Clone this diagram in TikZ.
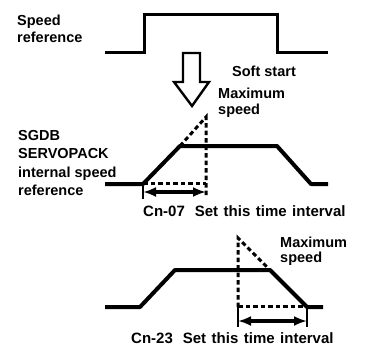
\documentclass[tikz,border=0pt]{standalone}
\usepackage{fontspec}
\setmainfont{Liberation Sans}
\usetikzlibrary{arrows.meta}
\begin{document}
\begin{tikzpicture}[x=1pt,y=-1pt,
  lbl/.style={inner sep=0pt,anchor=base west,font=\fontsize{14.5}{17}\bfseries},
  cnl/.style={inner sep=0pt,anchor=base west,font=\fontsize{15}{17}\bfseries},
  pulse/.style={line width=3pt,line join=miter},
  wave/.style={line width=4pt,line join=round},
  dsh/.style={line width=3pt,dash pattern=on 4.5pt off 3pt},
  dim/.style={line width=3.2pt,{Latex[length=13pt,width=10pt]}-{Latex[length=13pt,width=10pt]}},
  tick/.style={line width=2.2pt}]
\useasboundingbox (0,0) rectangle (369,345);
% labels
\node[lbl] (sp1) at (17,26) {Speed};
\node[lbl] (sp2) at (17,43) {reference};
\node[lbl] (sg1) at (18,140) {SGDB};
\node[lbl] (sg2) at (18,158) {SERVOPACK};
\node[lbl] (sg3) at (18,177) {internal speed};
\node[lbl] (sg4) at (18,195) {reference};
\node[lbl] (soft) at (232,77) {Soft start};
\node[lbl] (mx1) at (218,98) {Maximum};
\node[lbl] (ms1) at (218,114) {speed};
\node[cnl] (cn07) at (143,216) {Cn-07\hspace{10pt}Set\hspace{5.5pt}this\hspace{5.5pt}time\hspace{5.5pt}interval};
\node[lbl] (mx2) at (280,247) {Maximum};
\node[lbl] (ms2) at (280,262) {speed};
\node[cnl] (cn23) at (131,343) {Cn-23\hspace{10pt}Set\hspace{5.5pt}this\hspace{5.5pt}time\hspace{5.5pt}interval};
% top pulse
\draw[pulse] (105,53) -- (144,53) -- (144,15) -- (277,15) -- (277,53) -- (328,53);
% open arrow
\draw[line width=2.4pt,line join=miter] (183,53) -- (200,53) -- (200,82) -- (209,82) -- (192,106) -- (174,82) -- (183,82) -- cycle;
% middle trapezoid
\draw[wave] (105,184) -- (143,184) -- (180,146) -- (277,146) -- (311,184) -- (328,184);
\draw[dsh] (180,146) -- (206,117) -- (206,196);
\draw[dsh] (143,183) -- (206,183);
\coordinate (a1) at (143,192);
\coordinate (a2) at (206,192);
\draw[tick] (143,183) -- (143,199);
\draw[dim] (a1) -- (a2);
% bottom trapezoid
\draw[wave] (105,307) -- (140,307) -- (175,270) -- (270,270) -- (307,307) -- (323,307);
\draw[dsh] (238,307) -- (238,238) -- (268,268);
\draw[dsh] (238,306) -- (307,306);
\coordinate (b1) at (238,321);
\coordinate (b2) at (307,321);
\draw[tick] (238,307) -- (238,327);
\draw[tick] (307,307) -- (307,327);
\draw[dim] (b1) -- (b2);
\end{tikzpicture}
\end{document}
